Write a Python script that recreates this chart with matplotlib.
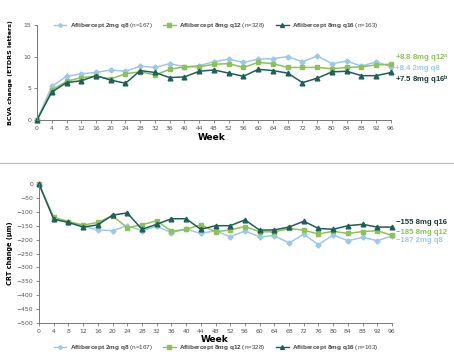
import matplotlib
matplotlib.use("Agg")
import matplotlib.pyplot as plt
from matplotlib.lines import Line2D

weeks = list(range(0, 97, 4))

bcva_2q8 = [0, 5.3, 6.9, 7.3, 7.5, 7.9, 7.7, 8.5, 8.3, 8.9, 8.4, 8.6, 9.2, 9.6,
            9.1, 9.6, 9.7, 10.0, 9.2, 10.1, 8.9, 9.3, 8.5, 9.2, 8.4]
bcva_8q12 = [0, 4.7, 6.1, 6.7, 6.9, 6.5, 7.3, 7.6, 7.1, 8.0, 8.4, 8.4, 8.8, 8.9,
             8.3, 9.1, 8.9, 8.3, 8.3, 8.3, 8.1, 8.3, 8.4, 8.7, 8.8]
bcva_8q16 = [0, 4.4, 5.9, 6.2, 7.0, 6.3, 5.8, 7.8, 7.5, 6.7, 6.8, 7.7, 7.9, 7.4,
             6.9, 8.0, 7.8, 7.4, 5.9, 6.6, 7.6, 7.7, 7.0, 7.0, 7.5]

crt_2q8 = [0, -125, -138, -152, -165, -168, -150, -168, -152, -175, -162, -178, -168, -190,
           -169, -190, -186, -212, -181, -218, -183, -204, -192, -204, -187]
crt_8q12 = [0, -120, -135, -148, -138, -115, -157, -147, -132, -170, -163, -147, -172, -165,
            -153, -172, -172, -160, -166, -180, -170, -178, -171, -168, -185]
crt_8q16 = [0, -127, -138, -155, -147, -112, -104, -163, -145, -125, -125, -163, -150, -150,
            -129, -166, -165, -155, -134, -160, -163, -150, -145, -155, -155]

series_names = ["Aflibercept 2mg q8", "Aflibercept 8mg q12", "Aflibercept 8mg q16"]
series_n = ["(n=167)", "(n=328)", "(n=163)"]

c_blue = "#9cc9ea"
c_green = "#8dc15a"
c_dark = "#1e5f5c"
colors = [c_blue, c_green, c_dark]
markers = ["D", "s", "^"]
msizes = [2.6, 3.0, 3.4]

bcva_labels = ["+8.8 8mg q12$^{a}$", "+8.4 2mg q8", "+7.5 8mg q16$^{b}$"]
bcva_label_colors = [c_green, c_blue, "#1a3a38"]
crt_labels = ["\u2212155 8mg q16", "\u2212185 8mg q12", "\u2212187 2mg q8"]
crt_label_colors = ["#1a3a38", c_green, c_blue]

plt.rcParams["mathtext.fontset"] = "custom"
plt.rcParams["mathtext.bf"] = "Liberation Sans:bold"
plt.rcParams["mathtext.rm"] = "Liberation Sans"
plt.rcParams["mathtext.it"] = "Liberation Sans:bold"

W, H = 454, 360
fig = plt.figure(figsize=(W / 100, H / 100), dpi=100)

def px_axes(l, r, t, b):
    return fig.add_axes([l / W, 1 - b / H, (r - l) / W, (b - t) / H])

def style(ax):
    for s in ["top", "right"]:
        ax.spines[s].set_visible(False)
    for s in ["left", "bottom"]:
        ax.spines[s].set_color("#777777")
        ax.spines[s].set_linewidth(0.7)
    ax.tick_params(labelsize=4.4, colors="#777777", labelcolor="#555555",
                   length=2, width=0.6, pad=2)
    ax.set_xticks(weeks)
    ax.set_xlim(0, 96)

ax1 = px_axes(37, 391, 25, 120)
for ys, c, m, ms in zip([bcva_2q8, bcva_8q12, bcva_8q16], colors, markers, msizes):
    ax1.plot(weeks, ys, color=c, marker=m, ms=ms, lw=1.1, clip_on=False)
ax1.set_ylim(0, 15)
ax1.set_yticks([0, 5, 10, 15])
style(ax1)
ax1.set_ylabel("BCVA change (ETDRS letters)", fontsize=4.6, fontweight="bold", labelpad=8)

ax2 = px_axes(39, 392, 184, 323)
for ys, c, m, ms in zip([crt_2q8, crt_8q12, crt_8q16], colors, markers, msizes):
    ax2.plot(weeks, ys, color=c, marker=m, ms=ms, lw=1.1, clip_on=False)
ax2.set_ylim(-500, 0)
ax2.set_yticks(list(range(-500, 1, 50)))
style(ax2)
ax2.set_ylabel("CRT change (\u00b5m)", fontsize=4.8, fontweight="bold", labelpad=3)

fig.text(212 / W, 1 - 138 / H, "Week", fontsize=6.5, fontweight="bold", ha="center", va="center")
fig.text(215 / W, 1 - 339 / H, "Week", fontsize=6.5, fontweight="bold", ha="center", va="center")

lab_font = ["Liberation Sans", "DejaVu Sans"]
for lab, c, y in zip(bcva_labels, bcva_label_colors, [59, 69, 80]):
    fig.text(395 / W, 1 - y / H, lab, fontsize=5.6, color=c, fontweight="bold",
             family=lab_font, ha="left", va="center")
for lab, c, y in zip(crt_labels, crt_label_colors, [222, 232, 241]):
    fig.text(396 / W, 1 - y / H, lab, fontsize=5.6, color=c, fontweight="bold",
             family=lab_font, ha="left", va="center")

# separator
fig.add_artist(Line2D([0, 1], [1 - 163 / H, 1 - 163 / H], color="#bbbbbb", lw=0.8))

# legends
def legend(y):
    handles = [Line2D([], [], color=c, marker=m, ms=ms - 0.6, lw=1.0)
               for c, m, ms in zip(colors, markers, msizes)]
    labels = [r"$\bf{" + nm.replace(" ", r"\ ") + "}$ " + n for nm, n in zip(series_names, series_n)]
    leg = fig.legend(handles, labels, loc="center", bbox_to_anchor=(216 / W, 1 - y / H),
                     ncol=3, frameon=False, handlelength=2.0,
                     columnspacing=1.6, handletextpad=0.5,
                     prop={"family": "Liberation Sans", "size": 4.6})
    for t in leg.get_texts():
        t.set_color("#444444")

legend(26)
legend(348)

fig.savefig("out.png", dpi=100)
